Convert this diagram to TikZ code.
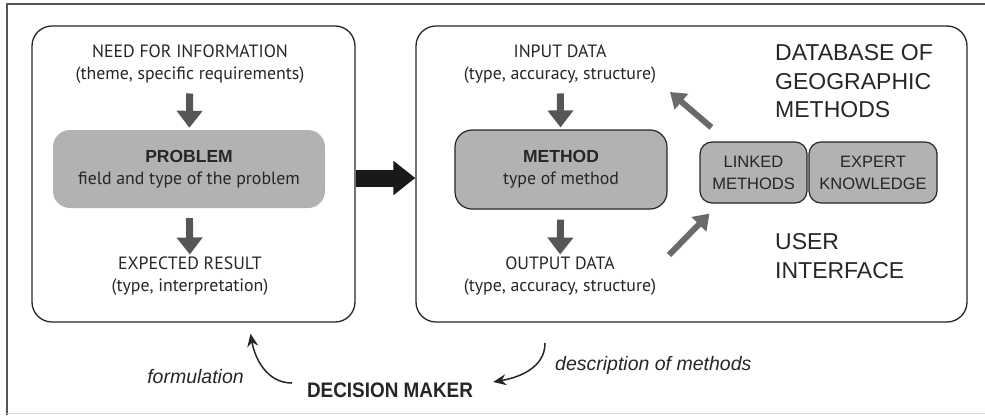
\documentclass[tikz,border=0pt]{standalone}
\usepackage{fontspec}
\setmainfont{PT Sans}
\newfontfamily\helv{Liberation Sans}
\newfontfamily\helvnarrow[FakeStretch=0.9]{Liberation Sans}
\usetikzlibrary{arrows.meta}

\definecolor{boxgray}{HTML}{B2B2B2}
\definecolor{arrowgray}{HTML}{565656}
\definecolor{linkgray}{HTML}{6A6A6A}
\definecolor{inkgray}{HTML}{262626}
\definecolor{framegray}{HTML}{555555}

\begin{document}
\begin{tikzpicture}[x=1pt, y=-1pt,
    every node/.style={font=\fontsize{17.8}{22}\selectfont, text=inkgray, align=center, inner sep=0pt},
    panel/.style={draw=inkgray, line width=1.3pt, rounded corners=20pt, minimum height=296pt},
    probbox/.style={fill=boxgray, rounded corners=17pt},
    methbox/.style={draw=inkgray, fill=boxgray, line width=1.2pt, rounded corners=17pt},
    smallbox/.style={draw=inkgray, fill=boxgray, line width=1.2pt, rounded corners=12pt, minimum height=61pt, font=\helv\fontsize{16.5}{22}\selectfont},
    bigtext/.style={font=\helv\fontsize{23}{28.5}\selectfont, align=left, anchor=west, text=black!85},
    downarrow/.style={draw=arrowgray, line width=7pt, -{Triangle[width=25pt,length=17pt]}, shorten <=10pt, shorten >=2pt},
    linkarrow/.style={draw=linkgray, line width=6pt, -{Triangle[width=20pt,length=15pt]}},
    bentarrow/.style={draw=black!85, line width=1.5pt, -{Stealth[width=11pt,length=13pt]}},
    note/.style={font=\helv\itshape\fontsize{19.5}{22}\selectfont}]

    % Frame
    \useasboundingbox (0,0) rectangle (985,415);
    \draw[framegray, line width=2pt] (985,4) -- (7,4) -- (7,415);
    \draw[black!15, line width=1pt] (7,413.5) -- (985,413.5);

    % Panels
    \node[panel, minimum width=323pt] (lbox) at (193.5,174) {};
    \node[panel, minimum width=551pt] (rbox) at (691.5,174) {};

    % Problem side
    \node (need) at (190,64) {NEED FOR INFORMATION\\(theme, specific requirements)};
    \node[probbox, minimum width=272pt, minimum height=78pt] (problem) at (189,169)
        {{\helv\bfseries\fontsize{17.5}{22}\selectfont PROBLEM}\\field and type of the problem};
    \node (result) at (190,276) {EXPECTED RESULT\\(type, interpretation)};

    % Method side
    \node (input) at (560,64) {INPUT DATA\\(type, accuracy, structure)};
    \node[methbox, minimum width=212pt, minimum height=79pt] (method) at (561,169.5)
        {{\helv\bfseries\fontsize{17.5}{22}\selectfont METHOD}\\type of method};
    \node (output) at (560,276) {OUTPUT DATA\\(type, accuracy, structure)};

    \node[smallbox, minimum width=107pt] (linked) at (753.5,172.5) {LINKED\\METHODS};
    \node[smallbox, minimum width=128pt] (expert) at (873,172.5) {EXPERT\\KNOWLEDGE};

    \node[bigtext] (database) at (775,81.5) {DATABASE OF\\GEOGRAPHIC\\METHODS};
    \node[bigtext] (user) at (775,256) {USER\\INTERFACE};

    % Decision maker
    \node[font=\helvnarrow\bfseries\fontsize{21}{22}\selectfont, text=black!85] (dm) at (390,390) {DECISION MAKER};
    \node[note] (formulation) at (195.5,377) {formulation};
    \node[note, anchor=west] (description) at (555,365) {description of methods};
    \coordinate (descstart) at (545,343);
    \coordinate (inputtip) at (670,92);
    \coordinate (outputtail) at (669,255);

    % Edges
    \draw[downarrow] (need) -- (problem);
    \draw[downarrow] (problem) -- (result);
    \draw[downarrow] (input) -- (method);
    \draw[downarrow] (method) -- (output);
    \draw[line width=17pt, black!90, -{Triangle[width=33pt,length=22pt]}]
        ([yshift=-4pt]lbox.east) -- ([yshift=-4pt]rbox.west);
    \draw[linkarrow] ([xshift=12pt,yshift=14pt]linked.north west) -- (inputtip);
    \draw[linkarrow] (outputtail) -- ([xshift=10pt,yshift=-10pt]linked.south west);
    \draw[bentarrow] ([xshift=-15pt,yshift=7pt]dm.west) to[out=180, in=-80] ([xshift=57pt,yshift=-11pt]lbox.south);
    \draw[bentarrow] (descstart) to[out=-90, in=10] ([xshift=20pt,yshift=8pt]dm.east);
\end{tikzpicture}
\end{document}
